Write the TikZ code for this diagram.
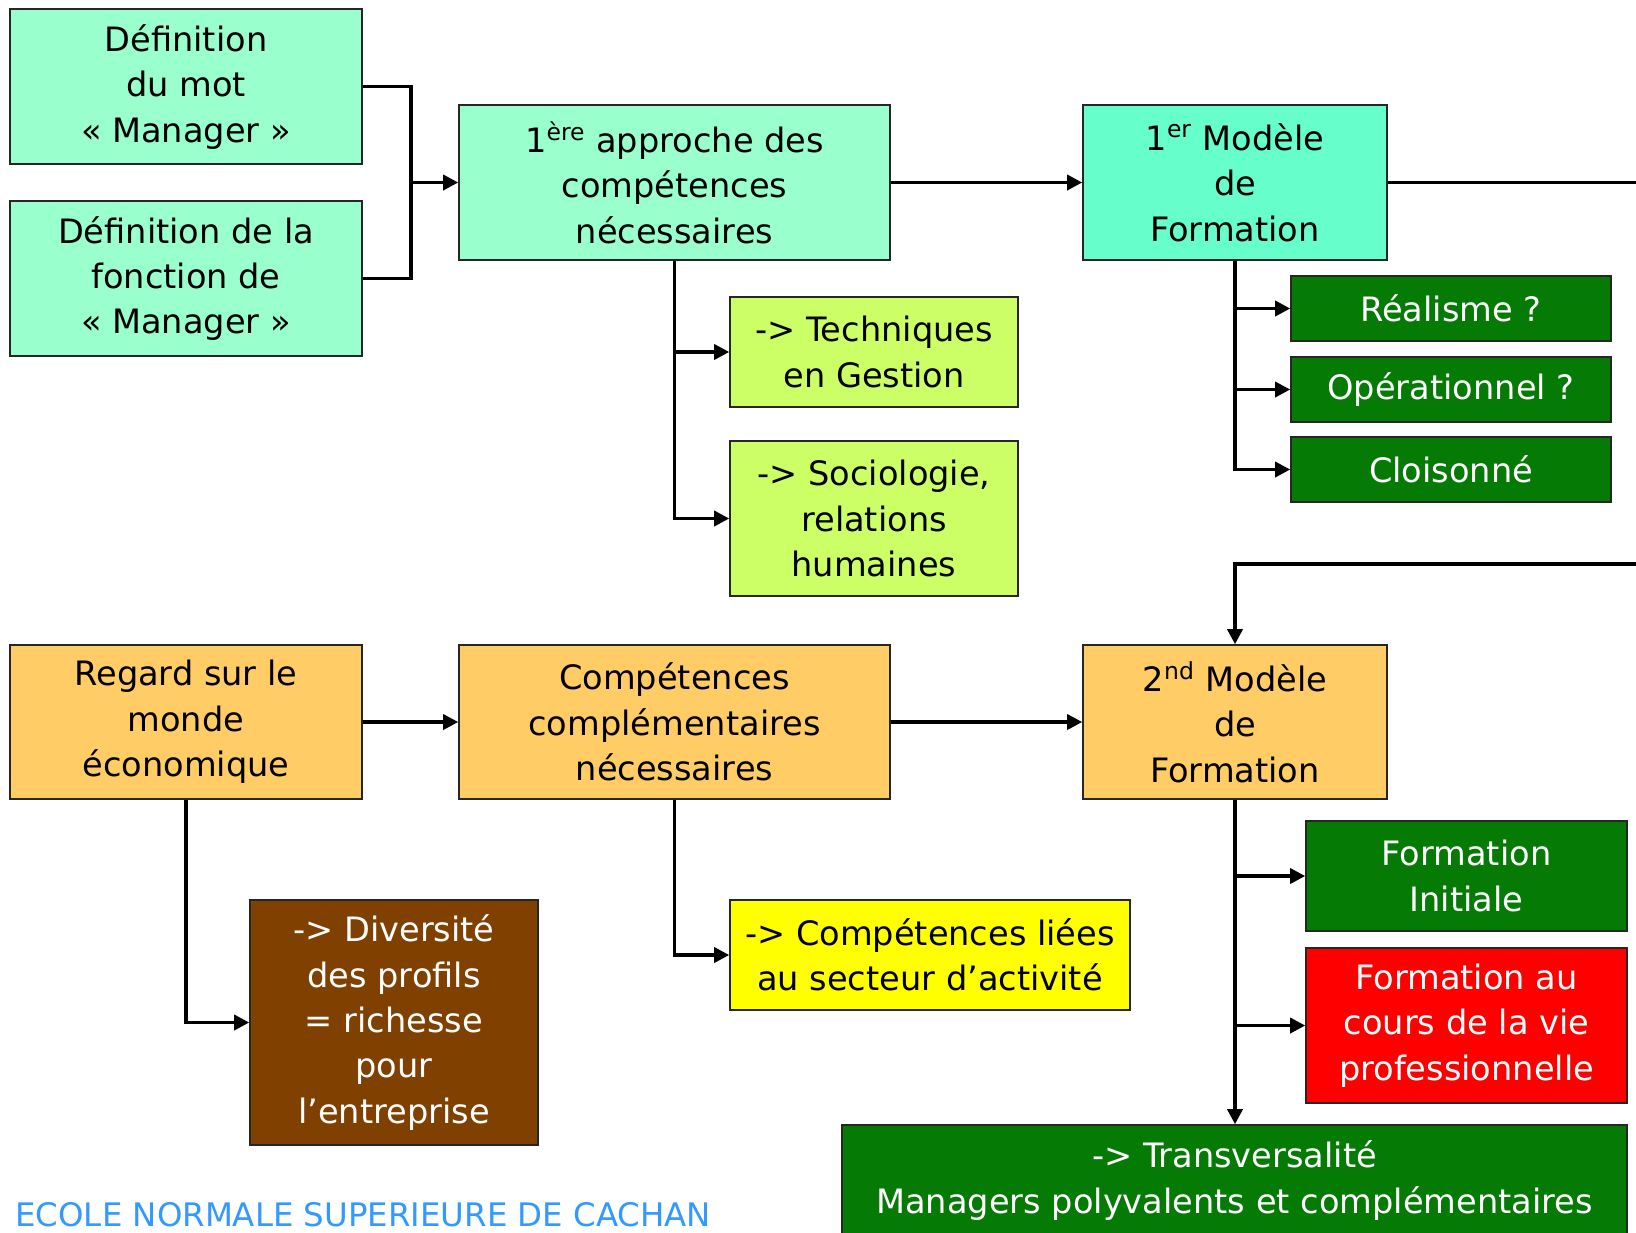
\documentclass[tikz,border=0pt]{standalone}
\usepackage{fontspec}
\setmainfont{DejaVu Sans}
\usetikzlibrary{arrows.meta}

\definecolor{vertpale}{HTML}{99FFCC}
\definecolor{vertmodele}{HTML}{66FFCC}
\definecolor{vertlime}{HTML}{CCFF66}
\definecolor{vertfonce}{HTML}{057A05}
\definecolor{orangepale}{HTML}{FFCC66}
\definecolor{brun}{HTML}{804000}
\definecolor{jaune}{HTML}{FFFF00}
\definecolor{rouge}{HTML}{FF0000}
\definecolor{bleuecole}{HTML}{3399FF}

\tikzset{
  boite/.style={draw=black!85, line width=0.8pt, align=center, inner sep=2pt,
    font=\fontsize{16.8}{22.7}\selectfont},
  lien/.style={line width=1.7pt, -{Triangle[length=7.5pt,width=7.5pt]}},
  trait/.style={line width=1.7pt},
}

\begin{document}
\begin{tikzpicture}[x=0.5pt,y=0.5pt,yscale=-1]
\useasboundingbox (0,0) rectangle (1636,1232);

%Row 1
\node (defmot) [boite, fill=vertpale, minimum width=176pt, minimum height=77.5pt] at (186,86.7) {Définition\\du mot\\« Manager »};
\node (deffonc) [boite, fill=vertpale, minimum width=176pt, minimum height=77.5pt] at (186,278.5) {Définition de la\\fonction de\\« Manager »};
\node (approche) [boite, fill=vertpale, minimum width=215.5pt, minimum height=77.5pt] at (674.5,182.5) {1\textsuperscript{ère} approche des\\compétences\\nécessaires};
\node (modele1) [boite, fill=vertmodele, minimum width=152pt, minimum height=77.5pt] at (1235,182.5) {1\textsuperscript{er} Modèle\\de\\Formation};

%Under approche
\node (techn) [boite, fill=vertlime, minimum width=144pt, minimum height=55pt] at (874,352) {-> Techniques\\en Gestion};
\node (socio) [boite, fill=vertlime, minimum width=144pt, minimum height=77.5pt] at (874,518.5) {-> Sociologie,\\relations\\humaines};

%Under modele 1
\node (realisme) [boite, fill=vertfonce, text=white, minimum width=160pt, minimum height=32.5pt] at (1451,308.5) {Réalisme ?};
\node (operat) [boite, fill=vertfonce, text=white, minimum width=160pt, minimum height=32.5pt] at (1451,389.5) {Opérationnel ?};
\node (cloison) [boite, fill=vertfonce, text=white, minimum width=160pt, minimum height=32.5pt] at (1451,469.5) {Cloisonné};

%Row 2
\node (regard) [boite, fill=orangepale, minimum width=176pt, minimum height=77pt] at (186,722) {Regard sur le\\monde\\économique};
\node (complem) [boite, fill=orangepale, minimum width=215.5pt, minimum height=77pt] at (674.5,722) {Compétences\\complémentaires\\nécessaires};
\node (modele2) [boite, fill=orangepale, minimum width=152pt, minimum height=77pt] at (1235,722) {2\textsuperscript{nd} Modèle\\de\\Formation};

%Under row 2
\node (divers) [boite, fill=brun, text=white, minimum width=144pt, minimum height=122.5pt] at (394,1022.5) {-> Diversité\\des profils\\= richesse\\pour\\l’entreprise};
\node (secteur) [boite, fill=jaune, minimum width=200pt, minimum height=55pt] at (930,955) {-> Compétences liées\\au secteur d’activité};
\node (initiale) [boite, fill=vertfonce, text=white, minimum width=160.5pt, minimum height=55pt] at (1466.5,876) {Formation\\Initiale};
\node (continue) [boite, fill=rouge, text=white, minimum width=160.5pt, minimum height=77.5pt] at (1466.5,1025.5) {Formation au\\cours de la vie\\professionnelle};
\node (transv) [boite, fill=vertfonce, text=white, minimum width=392.5pt, minimum height=55.5pt] at (1234.5,1180.5) {-> Transversalité\\Managers polyvalents et complémentaires};

%Footer
\node (ecole) [anchor=base west, inner sep=0pt, text=bleuecole, font=\fontsize{16.2}{19}\selectfont] at (15,1226) {ECOLE NORMALE SUPERIEURE DE CACHAN};

%Connectors
\coordinate (jonction) at (411,182.5);
\coordinate (bordhaut) at (1640,182.5);
\coordinate (bordbas) at (1640,564);

\draw [trait] (defmot.east) -| (jonction) |- (deffonc.east);
\draw [lien] (jonction) -- (approche.west);
\draw [lien] (approche) -- (modele1);
\draw [trait] (modele1.east) -- (bordhaut);
\draw [lien] (bordbas) -| (modele2.north);

\draw [lien] (approche.south) |- (techn.west);
\draw [lien] (approche.south) |- (socio.west);

\draw [lien] (modele1.south) |- (realisme.west);
\draw [lien] (modele1.south) |- (operat.west);
\draw [lien] (modele1.south) |- (cloison.west);

\draw [lien] (regard) -- (complem);
\draw [lien] (complem) -- (modele2);

\draw [lien] (regard.south) |- (divers.west);
\draw [lien] (complem.south) |- (secteur.west);

\draw [lien] (modele2.south) |- (initiale.west);
\draw [lien] (modele2.south) |- (continue.west);
\draw [lien] (modele2.south) -- (modele2.south |- transv.north);

\end{tikzpicture}
\end{document}
